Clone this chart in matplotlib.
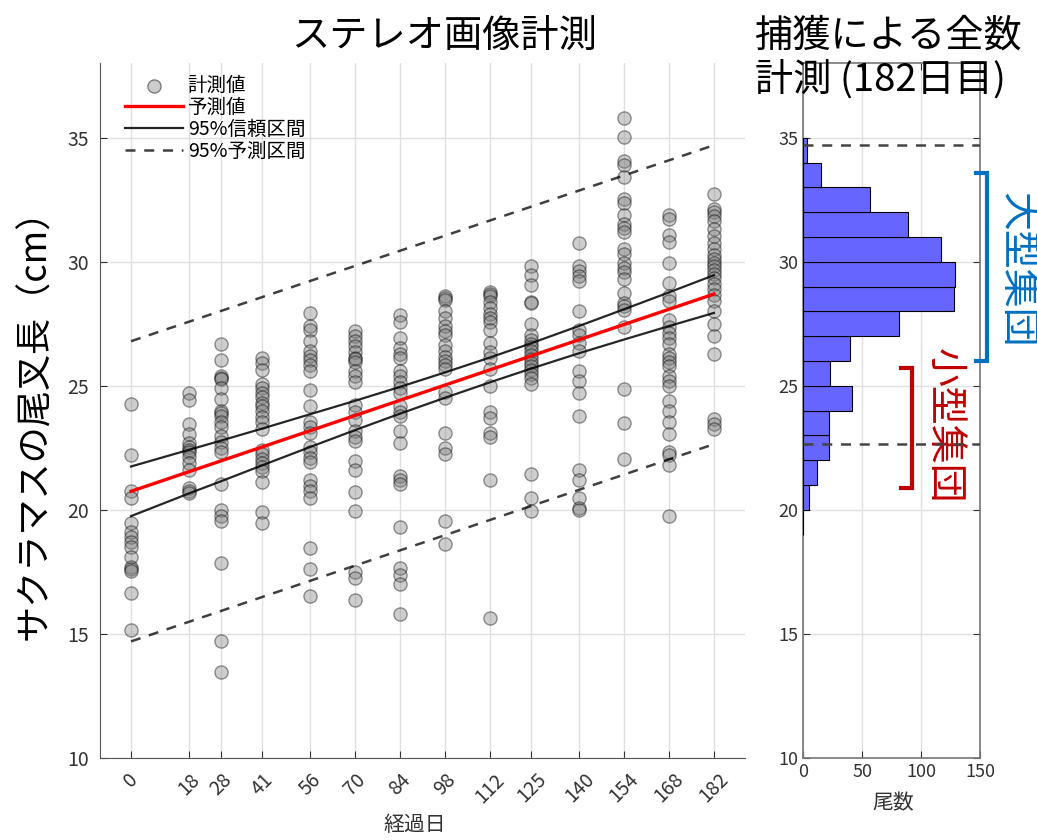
import matplotlib
matplotlib.use('Agg')
import matplotlib.pyplot as plt
import numpy as np

plt.rcParams['font.family'] = ['Noto Sans CJK JP', 'DejaVu Sans']

# 尾叉長の計測値 (cm), 経過日ごと
days = [0, 18, 28, 41, 56, 70, 84, 98, 112, 125, 140, 154, 168, 182]
d000 = [24.27, 22.21, 20.76, 20.5, 19.47, 19.12, 18.9, 18.7, 18.5, 18.1, 17.7, 17.6, 17.55, 16.67, 15.15]
d018 = [24.7, 24.45, 23.45, 23.05, 22.7, 22.55, 22.4, 22.35, 22.15, 21.9, 21.6, 20.9, 20.75, 20.7]
d028 = [26.7, 26.06, 25.38, 25.3, 25.27, 24.92, 24.47, 23.97, 23.9, 23.79, 23.56, 23.33, 22.98,
        22.73, 22.5, 22.35, 21.03, 20.0, 19.77, 19.55, 17.85, 14.7, 13.48]
d041 = [26.14, 25.91, 25.64, 25.08, 24.92, 24.73, 24.55, 24.32, 24.17, 23.97, 23.76, 23.56, 23.26,
        22.42, 22.24, 22.05, 21.89, 21.74, 21.55, 21.14, 19.92, 19.47]
d056 = [27.95, 27.42, 27.24, 26.82, 26.39, 26.21, 26.03, 25.83, 25.58, 24.85, 24.17, 23.56, 23.33,
        23.11, 22.55, 22.32, 22.09, 21.94, 21.21, 20.98, 20.76, 20.48, 18.45, 17.61, 16.52]
d070 = [27.2, 27.0, 26.82, 26.59, 26.36, 26.14, 26.1, 25.95, 25.61, 25.38, 25.15, 24.24, 23.94,
        23.64, 23.18, 22.95, 22.76, 21.97, 21.59, 20.73, 19.97, 17.5, 17.24, 16.36]
d084 = [27.85, 27.58, 26.94, 26.52, 26.29, 26.14, 25.61, 25.38, 25.15, 24.92, 24.73, 24.17, 23.94,
        23.79, 23.18, 22.7, 21.36, 21.21, 21.03, 19.32, 17.65, 17.39, 17.0, 15.79]
d098 = [28.64, 28.55, 28.45, 28.0, 27.73, 27.42, 27.2, 27.05, 26.64, 26.41, 26.18, 26.0, 25.86,
        25.68, 24.77, 24.52, 23.11, 22.5, 22.27, 19.55, 18.64]
d112 = [28.79, 28.7, 28.61, 28.38, 28.15, 27.88, 27.73, 27.58, 27.24, 26.74, 26.36, 26.14, 25.68,
        25.0, 23.94, 23.71, 23.11, 22.95, 21.21, 15.64]
d125 = [29.85, 29.47, 29.06, 28.38, 28.35, 27.5, 27.05, 26.86, 26.7, 26.55, 26.39, 26.24, 26.09,
        25.94, 25.79, 25.64, 25.48, 25.33, 25.08, 21.44, 20.48, 19.95]
d140 = [30.76, 29.82, 29.62, 29.42, 29.21, 28.0, 27.24, 27.05, 26.74, 26.39, 25.61, 25.18, 24.73,
        23.79, 21.59, 21.21, 20.48, 20.08, 20.0]
d154 = [35.79, 35.05, 34.06, 33.91, 33.41, 32.55, 32.39, 31.89, 31.52, 31.36, 31.21, 30.53, 30.3,
        29.97, 29.77, 29.59, 29.32, 28.76, 28.33, 28.21, 28.06, 27.39, 24.88, 23.52, 22.05]
d168 = [31.89, 31.74, 31.09, 30.79, 29.97, 29.14, 28.64, 28.41, 27.65, 27.39, 27.15, 26.94, 26.7,
        26.29, 26.14, 25.98, 25.79, 25.38, 25.18, 25.0, 24.39, 23.97, 23.56, 23.06, 22.35, 22.2,
        21.82, 19.77]
d182 = [32.73, 32.12, 32.0, 31.85, 31.64, 31.33, 31.06, 30.76, 30.53, 30.27, 30.12, 29.97, 29.82,
        29.67, 29.52, 29.36, 29.09, 28.91, 28.67, 28.41, 28.03, 27.5, 27.0, 26.29, 23.67, 23.48, 23.26]
measured = [d000, d018, d028, d041, d056, d070, d084, d098, d112, d125, d140, d154, d168, d182]

# 回帰の予測値と区間
pred_days = [0, 182]
pred_vals = [20.75, 28.7]
ci_upper = [21.75, 22.42, 22.79, 23.28, 23.86, 24.40, 24.96, 25.54, 26.14, 26.72, 27.42, 28.09, 28.77, 29.46]
ci_lower = [19.75, 20.66, 21.15, 21.80, 22.54, 23.22, 23.88, 24.52, 25.14, 25.70, 26.32, 26.87, 27.41, 27.94]
pi_days = [0, 182]
pi_upper = [26.8, 34.7]
pi_lower = [14.7, 22.65]

# 182日目の全数計測ヒストグラム
bin_lo = [19, 20, 21, 22, 23, 24, 25, 26, 27, 28, 29, 30, 31, 32, 33, 34]
counts = [0, 5, 12, 22, 22, 41, 23, 40, 81, 128, 129, 117, 89, 57, 15, 3]

fig = plt.figure(figsize=(10.37, 8.4), dpi=100)
ax = fig.add_axes([0.0964, 0.0976, 0.622, 0.827])
ax2 = fig.add_axes([0.7746, 0.0976, 0.1704, 0.827])

# 散布図
for d, vals in zip(days, measured):
    ax.scatter([d] * len(vals), vals, s=90, facecolors=(0.5, 0.5, 0.5, 0.38),
               edgecolors=(0, 0, 0, 0.4), linewidths=1.0, zorder=3)
ax.scatter([], [], s=90, facecolors=(0.5, 0.5, 0.5, 0.4), edgecolors=(0, 0, 0, 0.45),
           label='計測値')
ax.plot(pred_days, pred_vals, color='red', lw=2.4, label='予測値', zorder=5)
ax.plot(days, ci_upper, color='black', lw=1.6, alpha=0.85, label='95%信頼区間', zorder=4)
ax.plot(days, ci_lower, color='black', lw=1.6, alpha=0.85, zorder=4)
ax.plot(pi_days, pi_upper, color='black', lw=1.8, alpha=0.75, ls=(0, (4, 3.5)),
        label='95%予測区間', zorder=4)
ax.plot(pi_days, pi_lower, color='black', lw=1.8, alpha=0.75, ls=(0, (4, 3.5)), zorder=4)

ax.set_xlim(-9.7, 191.7)
ax.set_ylim(10, 38)
ax.set_xticks(days)
ax.set_xticklabels([str(d) for d in days], rotation=45, ha='center', va='top')
ax.set_yticks([10, 15, 20, 25, 30, 35])
ax.tick_params(direction='in', length=5, labelsize=14, colors='#333333', pad=8)
ax.grid(True, color='#e0e0e0', lw=1)
ax.set_axisbelow(True)
for side in ['top', 'right']:
    ax.spines[side].set_visible(False)
for side in ['left', 'bottom']:
    ax.spines[side].set_color('#555555')
ax.legend(loc='upper left', frameon=False, fontsize=14, handlelength=3.0,
          handletextpad=0.25, labelspacing=0.05, borderaxespad=0.2,
          bbox_to_anchor=(0.02, 1.0))

# ヒストグラム
ax2.barh(bin_lo, counts, height=1, align='edge', color='#6666ff',
         edgecolor='black', lw=0.8, zorder=3)
ax2.axhline(pi_upper[1], color='#444444', lw=1.8, ls=(0, (4, 3.5)), zorder=4)
ax2.axhline(pi_lower[1], color='#444444', lw=1.8, ls=(0, (4, 3.5)), zorder=4)
ax2.set_xlim(0, 150)
ax2.set_ylim(10, 38)
ax2.set_xticks([0, 50, 100, 150])
ax2.set_yticks([10, 15, 20, 25, 30, 35])
ax2.tick_params(direction='in', length=5, labelsize=13, colors='#333333',
                top=True, right=True)
ax2.grid(True, color='#e0e0e0', lw=1)
ax2.set_axisbelow(True)
for s in ax2.spines.values():
    s.set_color('#777777')
    s.set_linewidth(1.2)

# 大型集団・小型集団の括弧
blue = '#0070c0'
darkred = '#c00000'
ax2.plot([146.4, 155.7, 155.7, 146.4], [33.6, 33.6, 26.0, 26.0], color=blue, lw=3,
         clip_on=False, zorder=6, solid_joinstyle='miter')
ax2.text(181, 29.7, '大型集団', color=blue, fontsize=28, rotation=-90,
         ha='center', va='center', clip_on=False)
ax2.plot([83.1, 92.4, 92.4, 83.1], [25.7, 25.7, 20.9, 20.9], color=darkred, lw=3,
         clip_on=False, zorder=6, solid_joinstyle='miter')
ax2.text(119.6, 23.4, '小型集団', color=darkred, fontsize=28, rotation=-90,
         ha='center', va='center', clip_on=False)

# タイトル・軸ラベル
fig.text(444 / 1037, 1 - 36 / 840, 'ステレオ画像計測', fontsize=27.5, ha='center', va='center')
fig.text(755 / 1037, 1 - 36 / 840, '捕獲による全数', fontsize=27.5, ha='left', va='center')
fig.text(755 / 1037, 1 - 80 / 840, '計測 (182日目)', fontsize=27.5, ha='left', va='center')
fig.text(35 / 1037, 1 - 415 / 840, 'サクラマスの尾叉長（cm）', fontsize=26, rotation=90,
         ha='center', va='center')
fig.text(415 / 1037, 1 - 825 / 840, '経過日', fontsize=15, ha='center', va='center', color='#333333')
fig.text(893 / 1037, 1 - 803 / 840, '尾数', fontsize=15, ha='center', va='center', color='#333333')

fig.savefig('out.png', dpi=100)
